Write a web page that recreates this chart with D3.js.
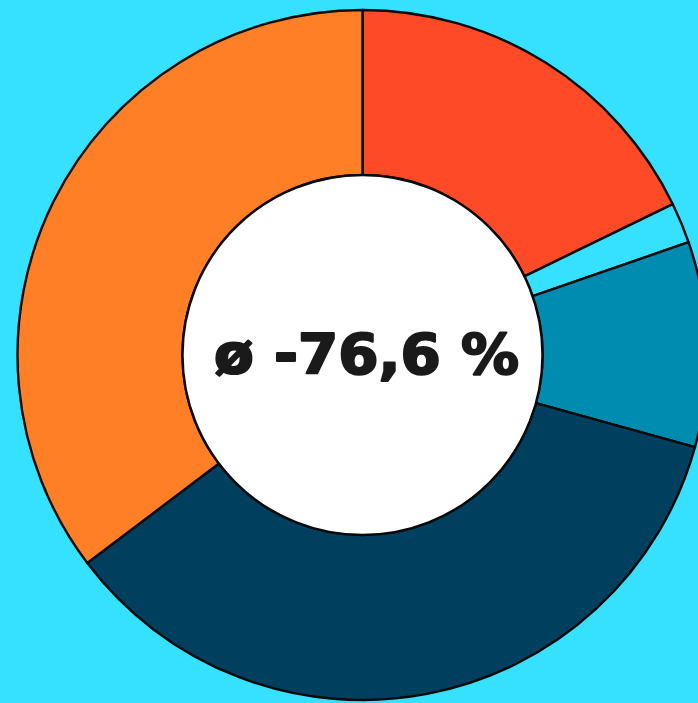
<!DOCTYPE html>
<html>
<head>
<meta charset="utf-8">
<script src="https://cdn.jsdelivr.net/npm/d3@7"></script>
<style>
  html, body { margin: 0; padding: 0; background: #35e1ff; }
  svg { display: block; }
</style>
</head>
<body>
<div class="canvas"></div>
<script>
// slice shares, clockwise from 12 o'clock
const categories = ["A", "B", "C", "D", "E"];
const shares = [17.8, 1.9, 9.6, 35.4, 35.3];
const sliceColors = ["#ff4a27", "#35e1ff", "#008bb0", "#00405e", "#ff7f27"];
const centerLabel = "ø -76,6 %";

const width = 698, height = 703;
const cx = 362.5, cy = 355;
const outerR = 345, innerR = 180;

const svg = d3.select(".canvas").append("svg")
    .attr("width", width)
    .attr("height", height);

svg.append("rect")
    .attr("width", width)
    .attr("height", height)
    .attr("fill", "#35e1ff");

const graph = svg.append("g").attr("transform", `translate(${cx}, ${cy})`);

const color = d3.scaleOrdinal().domain(categories).range(sliceColors);

const pie = d3.pie()
    .sort(null)
    .value((d, i) => shares[i]);

const arc = d3.arc()
    .innerRadius(innerR)
    .outerRadius(outerR);

graph.selectAll("path.slice")
    .data(pie(categories))
    .enter()
    .append("path")
    .attr("class", "slice")
    .attr("d", arc)
    .attr("fill", d => color(d.data))
    .attr("stroke", "#0a0a0a")
    .attr("stroke-width", 2.4)
    .attr("stroke-linejoin", "round");

// white hole
graph.append("circle")
    .attr("r", innerR)
    .attr("fill", "#fff")
    .attr("stroke", "#0a0a0a")
    .attr("stroke-width", 2.4);

const label = graph.append("text")
    .attr("x", 0)
    .attr("y", 0)
    .attr("text-anchor", "middle")
    .attr("dominant-baseline", "central")
    .style("font-family", "'DejaVu Sans', sans-serif")
    .style("font-weight", "bold")
    .style("font-size", "56px")
    .attr("fill", "#1a1a1a")
    .attr("stroke", "#1a1a1a")
    .attr("stroke-width", 2.2)
    .attr("stroke-linejoin", "round")
    .text(centerLabel);

// stretch to the wide face of the original
const targetW = 305;
const w = label.node().getComputedTextLength();
label.attr("transform", `translate(4, -2) scale(${targetW / w}, 1)`);
</script>
</body>
</html>
